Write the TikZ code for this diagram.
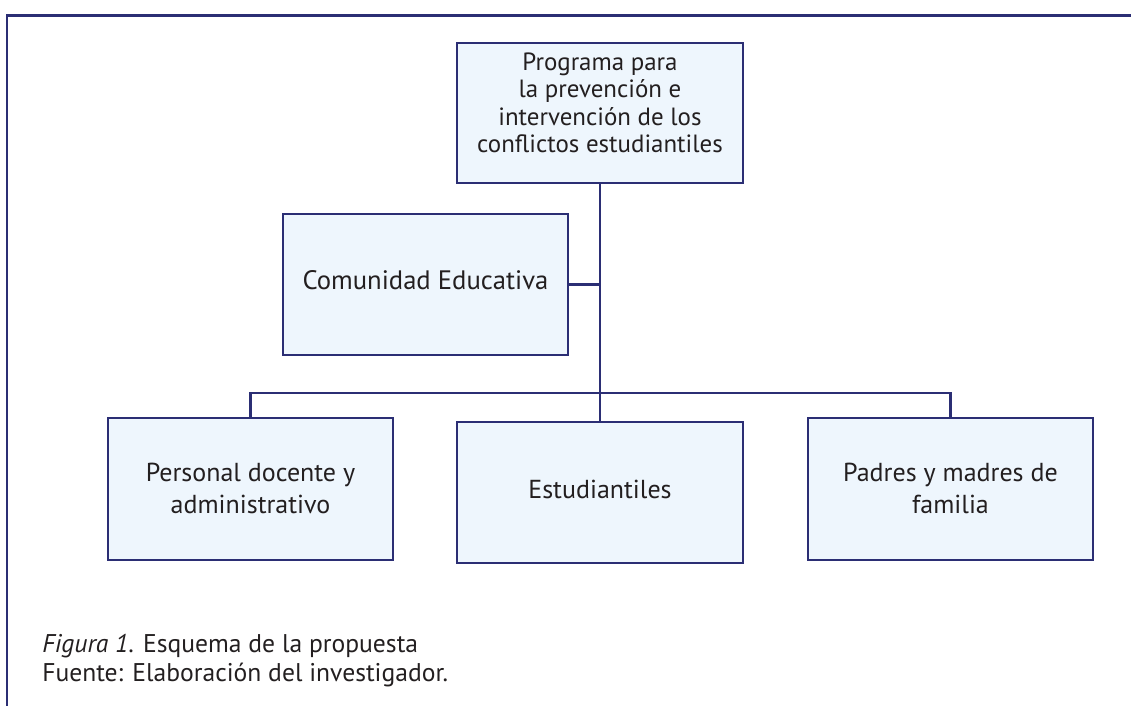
\documentclass[tikz,border=0pt]{standalone}
\usepackage{fontspec}
\setmainfont{PT Sans}
\begin{document}
\begin{tikzpicture}[x=0.75pt,y=-0.75pt,
  box/.style={draw=navy,fill=boxfill,line width=2.1pt,inner sep=0pt,minimum width=#1},
  box/.default={213.75pt},
  lbl/.style={text=txt,align=center,inner sep=0pt},
  conn/.style={draw=navy,line width=1.6pt},
  captext/.style={text=txt,inner sep=0pt,anchor=base west,font=\fontsize{19.2pt}{22pt}\selectfont}]
\definecolor{navy}{HTML}{2B2E74}
\definecolor{boxfill}{HTML}{EEF6FD}
\definecolor{txt}{HTML}{231F20}
\useasboundingbox (0,0) rectangle (1131,706);
% frame
\draw[navy,line width=1.7pt] (7,706) -- (7,15.5) -- (1131,15.5);
% boxes
\node[box={214.5pt},minimum height=105pt] (top) at (600,113) {};
\node[box,minimum height=105.75pt] (com) at (425.5,284.5) {};
\node[box,minimum height=106.5pt] (left) at (250.5,489) {};
\node[box={214.5pt},minimum height=105.75pt] (mid) at (600,492.5) {};
\node[box,minimum height=106.5pt] (right) at (950.5,489) {};
% texts
\node[lbl,font=\fontsize{18.7pt}{20.6pt}\selectfont] (topt) at (600,103) {Programa para\\la prevención e\\intervención de los\\conflictos estudiantiles};
\node[lbl,font=\fontsize{20pt}{24pt}\selectfont,anchor=base] (comt) at (425.5,289) {Comunidad Educativa};
\node[lbl,font=\fontsize{19.5pt}{24pt}\selectfont] (leftt) at (250.5,488) {Personal docente y\\administrativo};
\node[lbl,font=\fontsize{19.5pt}{24pt}\selectfont,anchor=base] (midt) at (600,498) {Estudiantiles};
\node[lbl,font=\fontsize{19.5pt}{24pt}\selectfont] (rightt) at (950.5,488) {Padres y madres de\\familia};
% connectors
\coordinate (busL) at (250.5,393);
\coordinate (busR) at (950.5,393);
\draw[conn] (top.south) -- (mid.north);
\draw[conn] (com.east) -- (com.east -| top.south);
\draw[conn] (left.north) -- (busL) -- (busR) -- (right.north);
% caption
\node[captext] (cap1) at (42,652) {\textit{Figura 1}. Esquema de la propuesta};
\node[captext] (cap2) at (42,681) {Fuente: Elaboración del investigador.};
\end{tikzpicture}
\end{document}
